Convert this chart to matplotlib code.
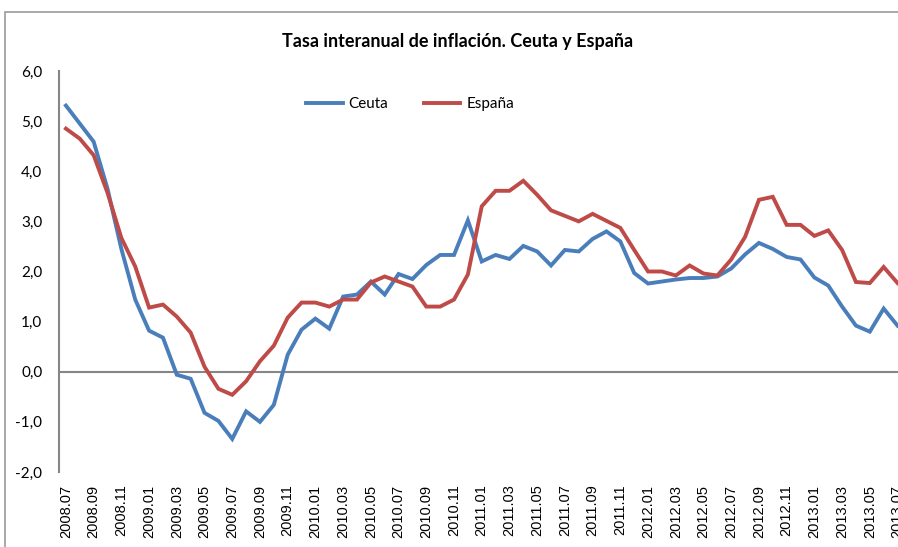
import matplotlib
matplotlib.use('Agg')
import matplotlib.pyplot as plt
from matplotlib.patches import Rectangle

# months 2008.07 .. 2013.07
months = []
for y in range(2008, 2014):
    for m in range(1, 13):
        if (y == 2008 and m < 7) or (y == 2013 and m > 7):
            continue
        months.append(f'{y}.{m:02d}')

ceuta = [5.31, 4.95, 4.59, 3.65, 2.45, 1.44, 0.82, 0.68, -0.06, -0.14,
         -0.82, -0.98, -1.34, -0.79, -1.0, -0.66, 0.34, 0.84, 1.06, 0.86,
         1.50, 1.54, 1.80, 1.54, 1.95, 1.85, 2.13, 2.33, 2.33, 3.02,
         2.20, 2.33, 2.25, 2.51, 2.40, 2.12, 2.43, 2.40, 2.65, 2.80,
         2.60, 1.97, 1.76, 1.80, 1.84, 1.87, 1.87, 1.90, 2.06, 2.34,
         2.57, 2.45, 2.29, 2.24, 1.88, 1.72, 1.30, 0.92, 0.80, 1.26,
         0.92]

espana = [4.85, 4.65, 4.32, 3.57, 2.67, 2.10, 1.28, 1.34, 1.10, 0.78,
          0.10, -0.34, -0.46, -0.19, 0.21, 0.52, 1.08, 1.38, 1.38, 1.30,
          1.44, 1.44, 1.78, 1.90, 1.80, 1.70, 1.30, 1.30, 1.44, 1.94,
          3.30, 3.61, 3.61, 3.81, 3.53, 3.22, 3.11, 3.00, 3.15, 3.01,
          2.87, 2.43, 2.00, 2.00, 1.92, 2.12, 1.96, 1.92, 2.24, 2.69,
          3.43, 3.49, 2.93, 2.93, 2.71, 2.82, 2.43, 1.79, 1.77, 2.09,
          1.77]

yticks = [-2, -1, 0, 1, 2, 3, 4, 5, 6]

W, H = 898, 547
fig = plt.figure(figsize=(W / 100, H / 100), dpi=100)

# outer chart border (cut at right/bottom like the screenshot)
fig.patches.append(Rectangle((5 / W, -0.1), 1.2, 1.1 - 12 / H, transform=fig.transFigure,
                             fill=False, edgecolor='#9a9a9a', linewidth=1.2))

n = len(months)
step = 13.86
left = 59 / W
width = n * step / W
bottom = (H - 472) / H
height = (472 - 71) / H
ax = fig.add_axes([left, bottom, width, height])
ax.set_facecolor('none')

x = list(range(n))
ax.plot(x, ceuta, color='#4A7EBB', lw=2.8, label='Ceuta', solid_joinstyle='miter')
ax.plot(x, espana, color='#BE4B48', lw=2.8, label='España', solid_joinstyle='miter')

ax.set_xlim(-0.5, n - 0.5)
ax.set_ylim(-2, 6)
ax.axhline(0, color='#868686', lw=1.5, zorder=1)

for s in ['top', 'right', 'bottom']:
    ax.spines[s].set_visible(False)
ax.spines['left'].set_color('#868686')
ax.spines['left'].set_linewidth(1.5)

ax.set_yticks(yticks)
ax.set_yticklabels([f'{v:.1f}'.replace('.', ',') for v in yticks],
                   fontfamily='Lato', fontsize=11)
ax.tick_params(axis='y', length=0, pad=12)

ax.set_xticks(x[::2])
ax.set_xticklabels(months[::2], rotation=90, fontfamily='Liberation Sans', fontsize=10.5)
ax.tick_params(axis='x', length=0, pad=9)

fig.text(458 / W, 1 - 41 / H, 'Tasa interanual de inflación. Ceuta y España',
         ha='center', va='center', fontfamily='Lato', fontweight='bold', fontsize=13)

leg = ax.legend(loc='center', bbox_to_anchor=(410 / W, 1 - 104 / H), bbox_transform=fig.transFigure,
                ncol=2, frameon=False, prop={'family': 'Lato', 'size': 11},
                handlelength=2.4, columnspacing=2.3, handletextpad=0.4)

fig.savefig('out.png', dpi=100)
